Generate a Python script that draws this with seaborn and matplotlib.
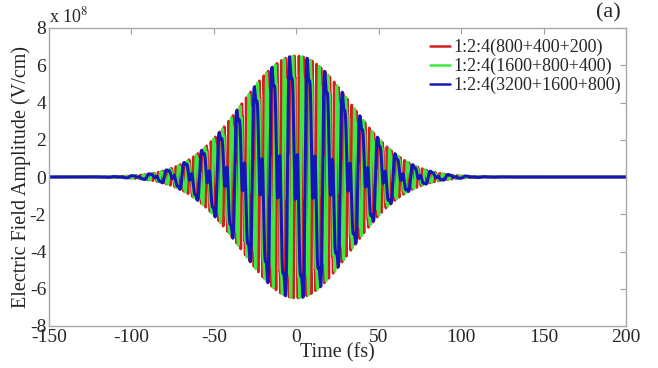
import numpy as np
import pandas as pd
import seaborn as sns
import matplotlib
matplotlib.use("Agg")
import matplotlib.pyplot as plt
from matplotlib.ticker import FuncFormatter

# values
series_labels = ["1:2:4(800+400+200)", "1:2:4(1600+800+400)", "1:2:4(3200+1600+800)"]
series_colors = ["#d41e1e", "#3ee83e", "#1616b8"]
wavelengths_red = [800, 400, 200]      # nm
wavelengths_green = [1600, 800, 400]
wavelengths_blue = [3200, 1600, 800]
field_weights = [4, 2, 1]              # relative field amplitude of each colour
peak_field = 6.5e8                     # V/cm
envelope_sigma = 33.0                  # fs
time_range = [-150, 200]               # fs
x_ticks = [-150, -100, -50, 0, 50, 100, 150, 200]
y_ticks = [-8e8, -6e8, -4e8, -2e8, 0, 2e8, 4e8, 6e8, 8e8]

c_nm_fs = 299.792458
t = np.linspace(time_range[0], time_range[1], 30001)


def field(wls):
    w = [2 * np.pi * c_nm_fs / wl for wl in wls]
    shift = np.pi / w[0]  # half a period of the longest wave
    def carrier(tt):
        return sum(a * np.sin(wk * (tt + shift)) for a, wk in zip(field_weights, w))
    tp = np.linspace(0, 2 * np.pi / w[0], 4000)
    norm = np.abs(carrier(tp)).max()
    env = np.exp(-t ** 2 / (2 * envelope_sigma ** 2))
    return peak_field * env * carrier(t) / norm


sns.set_theme(style="white")
plt.rcParams["font.family"] = ["Liberation Serif", "DejaVu Serif"]
plt.rcParams["mathtext.fontset"] = "stix"
plt.rcParams["axes.unicode_minus"] = False

fig = plt.figure(figsize=(6.58, 3.68), dpi=100)
ax = fig.add_axes([49 / 658, 1 - 326 / 368, (626 - 49) / 658, (326 - 28) / 368])

for wls, lab, col, lw in zip([wavelengths_red, wavelengths_green, wavelengths_blue],
                             series_labels, series_colors, [2.0, 2.0, 2.2]):
    df = pd.DataFrame({"t": t, "E": field(wls)})
    sns.lineplot(data=df, x="t", y="E", color=col, lw=lw, label=lab, ax=ax,
                 estimator=None, sort=False)

ax.set_xlim(time_range)
ax.set_ylim(-8e8, 8e8)
ax.set_xticks(x_ticks)
ax.set_yticks(y_ticks)
ax.xaxis.set_major_formatter(FuncFormatter(lambda v, p: "%d" % v))
ax.yaxis.set_major_formatter(FuncFormatter(lambda v, p: "%d" % round(v / 1e8)))
ax.tick_params(direction="in", top=True, right=True, length=4, width=0.8,
               color="#a0a0a0", labelsize=14, pad=2)
for s in ax.spines.values():
    s.set_color("#a8a8a8")
    s.set_linewidth(1.0)

ax.set_xlabel("Time (fs)", fontsize=14.5, labelpad=-2)
ax.set_ylabel("Electric Field Amplitude (V/cm)", fontsize=14.5, labelpad=-1)

ax.text(0.0, 1.005, r"x 10$^{8}$", transform=ax.transAxes, fontsize=13,
        ha="left", va="bottom")
ax.text(0.97, 1.02, "(a)", transform=ax.transAxes, fontsize=16,
        ha="center", va="bottom")

leg = ax.legend(loc="upper right", frameon=False, fontsize=13,
                handlelength=1.1, handletextpad=0.2, labelspacing=0.1,
                borderaxespad=0.2, bbox_to_anchor=(1.01, 1.0))
for h in leg.get_lines():
    h.set_linewidth(1.8)

fig.savefig("out.png", dpi=100)
